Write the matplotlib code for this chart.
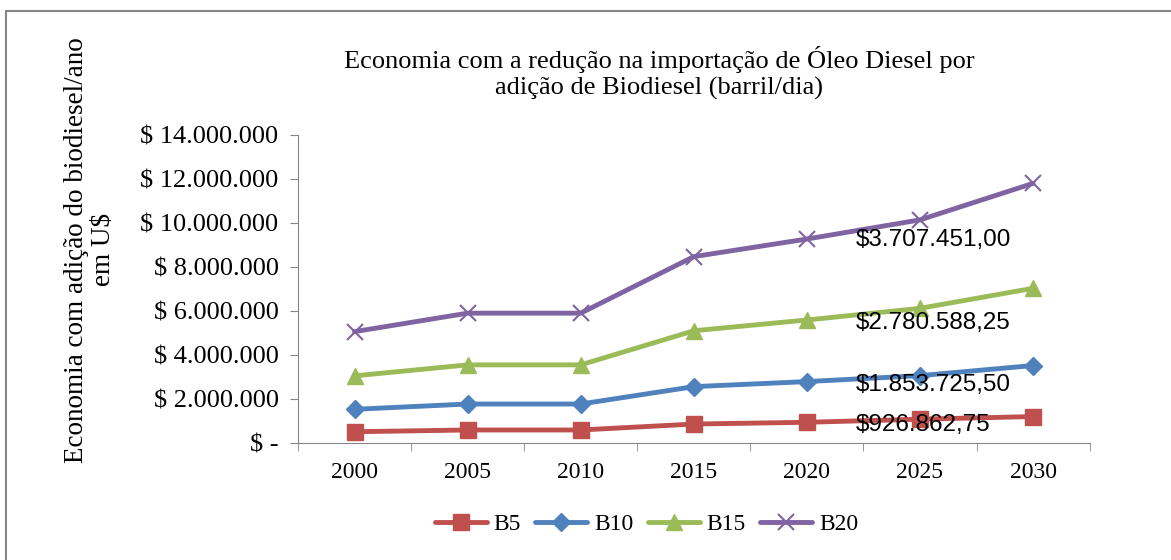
import matplotlib
matplotlib.use("Agg")
import matplotlib.pyplot as plt
from matplotlib.patches import Rectangle
from matplotlib.ticker import FixedLocator

# data
years = ["2000", "2005", "2010", "2015", "2020", "2025", "2030"]
b5 = [0.51e6, 0.59e6, 0.59e6, 0.86e6, 0.94e6, 1.08e6, 1.20e6]
b10 = [1.53e6, 1.77e6, 1.77e6, 2.56e6, 2.79e6, 3.06e6, 3.52e6]
b15 = [3.05e6, 3.55e6, 3.55e6, 5.10e6, 5.59e6, 6.12e6, 7.03e6]
b20 = [5.06e6, 5.90e6, 5.90e6, 8.47e6, 9.27e6, 10.14e6, 11.80e6]
notes = ["$3.707.451,00", "$2.780.588,25", "$1.853.725,50", "$926.862,75"]
note_y = [9.23e6, 5.45e6, 2.64e6, 0.82e6]
yticks = [0, 2e6, 4e6, 6e6, 8e6, 10e6, 12e6, 14e6]

serif = ["Liberation Serif", "DejaVu Serif"]
narrow = ["Liberation Sans Narrow", "Liberation Sans", "DejaVu Sans"]

fig = plt.figure(figsize=(11.71, 5.6), dpi=100)
fig.patches.append(Rectangle((0.005, -0.02), 1.02, 1.0, transform=fig.transFigure,
                             fill=False, edgecolor="#868686", lw=1.5))
ax = fig.add_axes([0.2545, 0.209, 0.676, 0.55])

x = range(len(years))
series = [
    ("B5", b5, "#C0504D", "s", 11),
    ("B10", b10, "#4F81BD", "D", 9),
    ("B15", b15, "#9BBB59", "^", 12),
    ("B20", b20, "#8064A2", "x", 11),
]
for name, vals, col, mk, ms in series:
    ax.plot(x, vals, color=col, lw=3.5, marker=mk, ms=ms, mew=1.5 if mk == "x" else 1,
            label=name, solid_capstyle="round")

for t, yv in zip(notes, note_y):
    ax.text(4.43, yv, t, fontsize=17.5, family=narrow, va="center", ha="left")

ax.set_xlim(-0.5, 6.5)
ax.set_ylim(0, 14e6)
ax.set_xticks(list(x))
ax.set_xticklabels(years, family=serif, fontsize=17)
ax.tick_params(axis="x", which="major", length=0, pad=14)
ax.xaxis.set_minor_locator(FixedLocator([i - 0.5 for i in range(8)]))
ax.tick_params(axis="x", which="minor", length=6, color="#868686")
ax.set_yticks(yticks)
ax.set_yticklabels(["$ -"] + ["$ " + f"{v:,.0f}".replace(",", ".") for v in yticks[1:]],
                   family=serif, fontsize=19)
ax.tick_params(axis="y", length=6, color="#868686", pad=8)
for s in ["top", "right"]:
    ax.spines[s].set_visible(False)
for s in ["left", "bottom"]:
    ax.spines[s].set_color("#868686")

ax.set_ylabel("Economia com adição do biodiesel/ano\nem U$", family=serif, fontsize=19.5,
              linespacing=1.1)
ax.yaxis.set_label_coords(-0.23, 0.627)
fig.text(0.563, 0.87, "Economia com a redução na importação de Óleo Diesel por\n"
         "adição de Biodiesel (barril/dia)", family=serif, fontsize=19,
         ha="center", va="center", linespacing=1.2)

fig.legend(loc="center", bbox_to_anchor=(0.552, 0.063), ncol=4, frameon=False,
           prop={"family": serif, "size": 17}, handlelength=2.2, columnspacing=0.6,
           handletextpad=0.3)

fig.savefig("out.png", dpi=100)
